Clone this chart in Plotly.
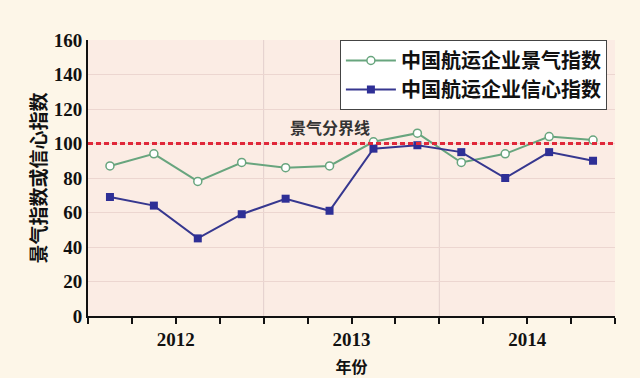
import plotly.graph_objects as go

quarters = ["2012Q1", "2012Q2", "2012Q3", "2012Q4",
            "2013Q1", "2013Q2", "2013Q3", "2013Q4",
            "2014Q1", "2014Q2", "2014Q3", "2014Q4"]
prosperity = [87, 94, 78, 89, 86, 87, 101, 106, 89, 94, 104, 102]
confidence = [69, 64, 45, 59, 68, 61, 97, 99, 95, 80, 95, 90]
year_labels = ["2012", "2013", "2014"]
threshold = 100

xpos = [i + 0.5 for i in range(len(quarters))]
year_pos = [2, 6, 10]

serif = "Liberation Serif"
cjk = "Noto Sans CJK SC"
bg = "#fdf6e8"

fig = go.Figure()
fig.add_trace(go.Scatter(
    x=xpos, y=prosperity, mode="lines+markers", name="中国航运企业景气指数",
    line=dict(color="#68a57e", width=2),
    marker=dict(symbol="circle", size=8, color="white", line=dict(color="#68a57e", width=1.5)),
))
fig.add_trace(go.Scatter(
    x=xpos, y=confidence, mode="lines+markers", name="中国航运企业信心指数",
    line=dict(color="#36378f", width=2),
    marker=dict(symbol="square", size=8, color="#2e2f96"),
))

fig.add_shape(type="line", xref="paper", yref="y", x0=0, x1=1, y0=threshold, y1=threshold,
              line=dict(color="#e0283a", width=3, dash="5px,3px"), layer="above")
for b in [4, 8]:
    fig.add_shape(type="line", xref="x", yref="paper", x0=b, x1=b, y0=0, y1=1,
                  line=dict(color="#e2cfcc", width=1), layer="below")

fig.add_annotation(x=5.5, y=threshold, yanchor="bottom", yshift=3, text="景气分界线",
                   showarrow=False, font=dict(family=cjk, size=16, color="#333", weight="bold"))

fig.update_layout(
    width=640, height=378,
    margin=dict(l=88, r=25, t=40, b=62),
    paper_bgcolor=bg,
    plot_bgcolor="#fbece4",
    showlegend=True,
    legend=dict(x=0.478, y=1.0, xanchor="left", yanchor="top",
                bgcolor="white", bordercolor="#444", borderwidth=1,
                font=dict(family=cjk, size=20, color="#111", weight="bold"),
                itemwidth=50, tracegroupgap=2),
    xaxis=dict(range=[0, 12], tickvals=year_pos, ticktext=year_labels, automargin=False,
               showgrid=False, zeroline=False, showline=True, linecolor="#111", linewidth=2,
               ticks="", ticklabelstandoff=5,
               tickfont=dict(family=serif, size=19, color="#111", weight="bold"),
               minor=dict(tickvals=list(range(0, 13)), ticks="outside", ticklen=6, tickwidth=2,
                          tickcolor="#111", showgrid=False),
               title=dict(text="年份", font=dict(family=cjk, size=16, color="#111", weight="bold"), standoff=13)),
    yaxis=dict(range=[0, 160], dtick=20, showgrid=True, gridcolor="#ecd6d0", gridwidth=1,
               automargin=False,
               zeroline=False, showline=True, linecolor="#111", linewidth=2, ticks="",
               tickfont=dict(family=serif, size=19, color="#111", weight="bold"),
               title=dict(text="景气指数或信心指数", font=dict(family=cjk, size=19, color="#111", weight="bold"), standoff=2)),
)

fig.write_html("out.html", config={"displayModeBar": False},
               post_script="document.body.style.margin='0';document.body.style.background='%s';" % bg)
